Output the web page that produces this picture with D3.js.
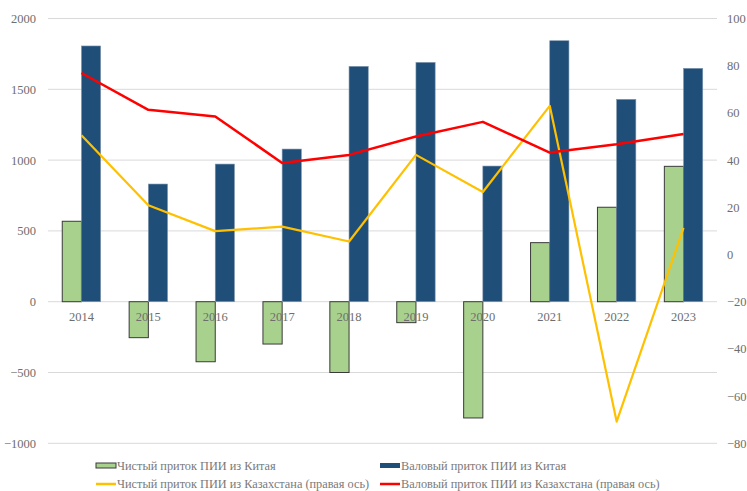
<!DOCTYPE html>
<html>
<head>
<meta charset="utf-8">
<script src="https://cdn.jsdelivr.net/npm/d3@7"></script>
<style>
  html, body { margin: 0; padding: 0; background: #fff; }
  svg { display: block; }
</style>
</head>
<body>
<svg id="chart" width="747" height="491"></svg>
<script>
const years = ["2014","2015","2016","2017","2018","2019","2020","2021","2022","2023"];
const netChina = [568, -254, -424, -299, -500, -148, -821, 417, 667, 956];
const grossChina = [1806, 831, 972, 1078, 1662, 1690, 958, 1843, 1429, 1648];
const netKaz = [50.5, 20.9, 9.9, 11.8, 5.5, 42.2, 26.5, 63, -70.8, 11.3];
const grossKaz = [76.9, 61.3, 58.5, 38.8, 42.2, 50, 56.2, 43.2, 46.7, 51.1];
const leftTicks = [-1000, -500, 0, 500, 1000, 1500, 2000];
const rightTicks = [-80, -60, -40, -20, 0, 20, 40, 60, 80, 100];
const legendLabels = [
  "Чистый приток ПИИ из Китая",
  "Валовый приток ПИИ из Китая",
  "Чистый приток ПИИ из Казахстана (правая ось)",
  "Валовый приток ПИИ из Казахстана (правая ось)"
];

const FONT = "'Liberation Serif', 'Times New Roman', serif";
const svg = d3.select("#chart");
const pLeft = 48, pRight = 717, pTop = 18.5, pBottom = 443.3;

const x = d3.scaleBand().domain(years).range([pLeft, pRight]).padding(0);
const yL = d3.scaleLinear().domain([-1000, 2000]).range([pBottom, pTop]);
const yR = d3.scaleLinear().domain([-80, 100]).range([pBottom, pTop]);
const barW = 19.2;

// gridlines
svg.append("g").selectAll("line").data(leftTicks).join("line")
  .attr("x1", pLeft).attr("x2", pRight)
  .attr("y1", d => yL(d)).attr("y2", d => yL(d))
  .attr("stroke", "#d9d9d9").attr("stroke-width", 1);

// left axis
const axL = svg.append("g").attr("transform", `translate(${pLeft - 12},0)`)
  .call(d3.axisLeft(yL).tickValues(leftTicks).tickSize(0).tickPadding(0).tickFormat(d3.format("d")));
axL.select(".domain").remove();
axL.attr("font-family", null).attr("font-size", null);
axL.selectAll("text").style("font-family", FONT).style("font-size", "12.5px").style("fill", "#6e6e6e");

// right axis
const axR = svg.append("g").attr("transform", `translate(${pRight + 10},0)`)
  .call(d3.axisRight(yR).tickValues(rightTicks).tickSize(0).tickPadding(0).tickFormat(d3.format("d")));
axR.select(".domain").remove();
axR.attr("font-family", null).attr("font-size", null);
axR.selectAll("text").style("font-family", FONT).style("font-size", "12.5px").style("fill", "#6e6e6e");

// bars
const cx = d => x(d) + x.bandwidth() / 2;
svg.append("g").selectAll("rect").data(years).join("rect")
  .attr("x", (d) => cx(d) - barW)
  .attr("width", barW)
  .attr("y", (d, i) => yL(Math.max(0, netChina[i])))
  .attr("height", (d, i) => Math.abs(yL(netChina[i]) - yL(0)))
  .attr("fill", "#a9d18e").attr("stroke", "#3a3a3a").attr("stroke-width", 1);

svg.append("g").selectAll("rect").data(years).join("rect")
  .attr("x", (d) => cx(d))
  .attr("width", barW)
  .attr("y", (d, i) => yL(Math.max(0, grossChina[i])))
  .attr("height", (d, i) => Math.abs(yL(grossChina[i]) - yL(0)))
  .attr("fill", "#1f4e79").attr("stroke", "#7f96ad").attr("stroke-width", 0.6);

// x labels
svg.append("g").selectAll("text").data(years).join("text")
  .attr("x", d => cx(d)).attr("y", yL(0) + 19)
  .attr("text-anchor", "middle")
  .style("font-family", FONT).style("font-size", "12.5px").style("fill", "#6e6e6e")
  .text(d => d);

// lines
const lineGen = arr => d3.line().x((d, i) => cx(years[i])).y(d => yR(d))(arr);
svg.append("path").attr("d", lineGen(netKaz))
  .attr("fill", "none").attr("stroke", "#ffc000").attr("stroke-width", 2.2).attr("stroke-linejoin", "round");
svg.append("path").attr("d", lineGen(grossKaz))
  .attr("fill", "none").attr("stroke", "#ff0000").attr("stroke-width", 2.5).attr("stroke-linejoin", "round");

// legend
const lg = svg.append("g");
const items = [
  {x: 96, y: 465.5, type: "rect", fill: "#a9d18e", stroke: "#3a3a3a"},
  {x: 380, y: 465.5, type: "rect", fill: "#1f4e79", stroke: "none"},
  {x: 96, y: 484, type: "line", stroke: "#ffc000"},
  {x: 380, y: 484, type: "line", stroke: "#ff0000"}
];
items.forEach((it, i) => {
  if (it.type === "rect") {
    lg.append("rect").attr("x", it.x).attr("y", it.y - 2.5).attr("width", 20).attr("height", 5)
      .attr("fill", it.fill).attr("stroke", it.stroke).attr("stroke-width", 1);
  } else {
    lg.append("line").attr("x1", it.x).attr("x2", it.x + 20).attr("y1", it.y).attr("y2", it.y)
      .attr("stroke", it.stroke).attr("stroke-width", 2.5);
  }
  lg.append("text").attr("x", it.x + 21).attr("y", it.y).attr("dy", "0.35em")
    .style("font-family", FONT).style("font-size", "12.3px").style("fill", "#7a7a7a")
    .text(legendLabels[i]);
});
</script>
</body>
</html>
